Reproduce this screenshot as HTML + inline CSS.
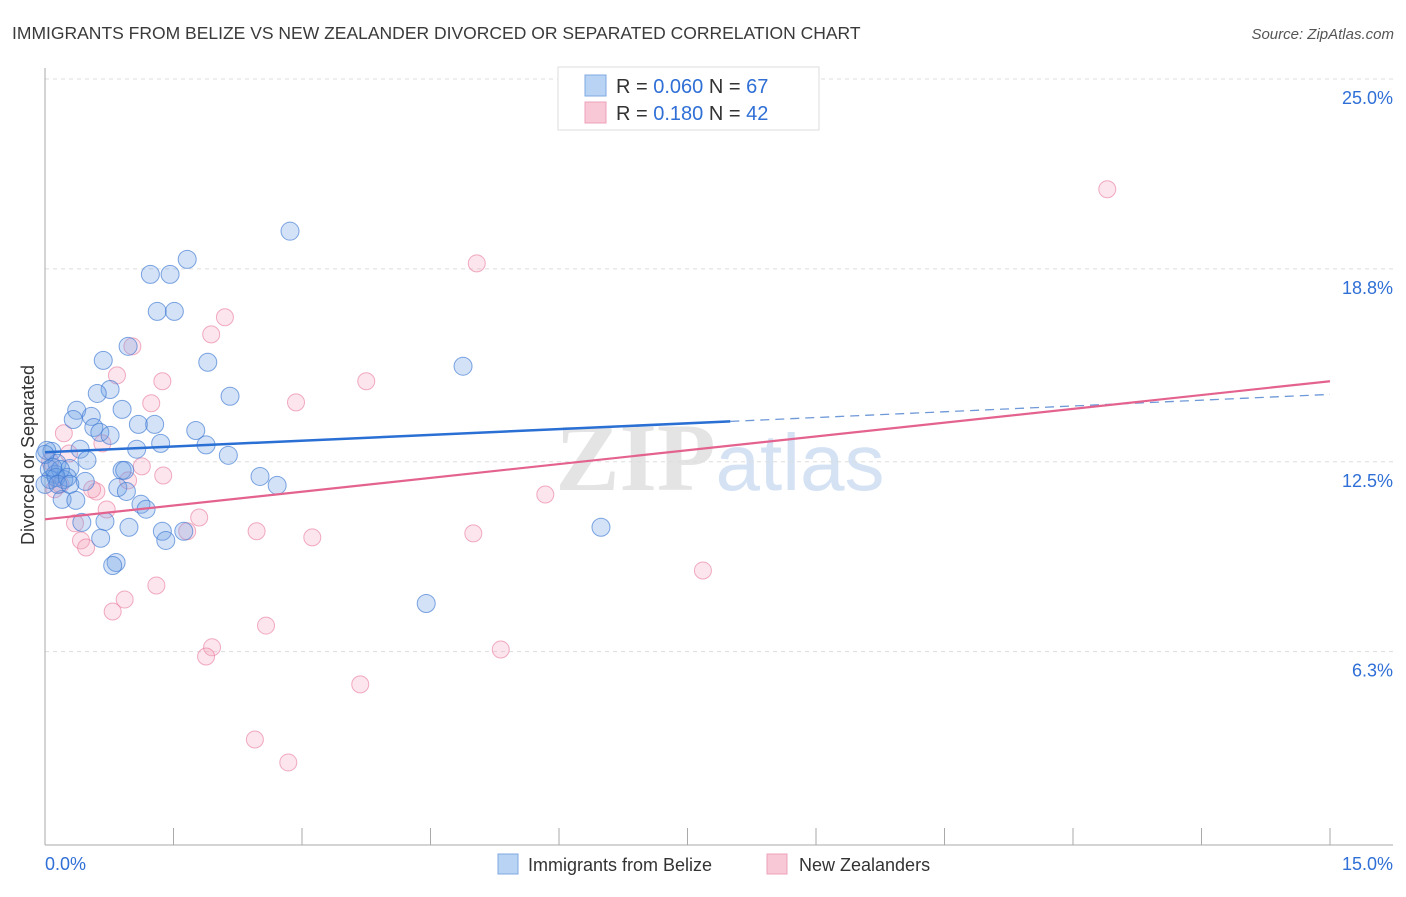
<!DOCTYPE html>
<html><head><meta charset="utf-8"><style>
body{margin:0;background:#fff;width:1406px;height:892px;overflow:hidden;font-family:"Liberation Sans",sans-serif}
</style></head><body>
<svg id="chart" width="1406" height="892" xmlns="http://www.w3.org/2000/svg" font-family="Liberation Sans, sans-serif">
<text x="12" y="39" font-size="17.5" fill="#3a3a3a">IMMIGRANTS FROM BELIZE VS NEW ZEALANDER DIVORCED OR SEPARATED CORRELATION CHART</text>
<text x="1394" y="39" font-size="15" fill="#555" font-style="italic" text-anchor="end">Source: ZipAtlas.com</text>
<text x="720" y="490" font-size="96" text-anchor="middle" fill="#e4e4e4" font-family="Liberation Serif, serif" font-weight="bold">ZIP<tspan fill="#d4e2f4" font-family="Liberation Sans, sans-serif" font-weight="normal" font-size="80">atlas</tspan></text>
<g id="grid"></g>
<g id="axes"></g>
<g id="marks"></g>
<text transform="translate(34,455) rotate(-90)" font-size="18" fill="#333" text-anchor="middle">Divorced or Separated</text>
<g>
<rect x="558" y="67" width="261" height="63" fill="#fff" stroke="#ddd"/>
<rect x="585" y="75" width="21" height="21" fill="#b9d3f5" stroke="#7fa8e0"/>
<rect x="585" y="102" width="21" height="21" fill="#f9c8d7" stroke="#eea0b8"/>
<text x="616" y="93" font-size="20" fill="#333">R = <tspan fill="#2f6fd6">0.060</tspan>   N = <tspan fill="#2f6fd6">67</tspan></text>
<text x="616" y="120" font-size="20" fill="#333">R =  <tspan fill="#2f6fd6">0.180</tspan>   N = <tspan fill="#2f6fd6">42</tspan></text>
</g>
<g>
<rect x="498" y="854" width="20" height="20" fill="#b9d3f5" stroke="#7fa8e0"/>
<text x="528" y="871" font-size="18" fill="#333">Immigrants from Belize</text>
<rect x="767" y="854" width="20" height="20" fill="#f9c8d7" stroke="#eea0b8"/>
<text x="799" y="871" font-size="18" fill="#333">New Zealanders</text>
</g>
</svg>
<script>
const yTicks=[25.0,18.8,12.5,6.3];
const yTickLabels=["25.0%","18.8%","12.5%","6.3%"];
const xTicks=[0,1.5,3,4.5,6,7.5,9,10.5,12,13.5,15];
const xEndLabels=["0.0%","15.0%"];
const belizeX=[2.86,1.66,1.23,1.46,1.31,1.51,0.97,0.68,1.90,4.88,0.76,0.61,0.90,0.37,0.54,0.33,2.16,1.09,1.28,0.57,0.64,0.76,1.76,1.07,1.35,1.88,0.41,0.08,0.49,2.14,0.14,0.02,0.29,0.90,0.93,2.51,2.71,0.47,0.85,0.95,0.20,0.36,1.12,1.18,0.70,0.43,0.65,1.37,1.41,1.62,0.98,0.83,0.79,4.45,6.49,0.05,0.12,0.22,0.18,0.06,0.13,0.26,0.00,0.09,0.0,0.15,0.29];
const belizeY=[20.03,19.11,18.62,18.62,17.41,17.41,16.27,15.81,15.75,15.62,14.86,14.73,14.21,14.18,13.98,13.88,14.64,13.72,13.72,13.62,13.46,13.36,13.52,12.91,13.10,13.05,12.91,12.84,12.55,12.71,12.45,12.87,12.28,12.22,12.22,12.02,11.73,11.86,11.66,11.53,11.27,11.24,11.11,10.95,10.55,10.52,10.00,10.23,9.93,10.23,10.36,9.21,9.11,7.87,10.36,12.25,12.09,11.92,12.25,11.92,11.99,11.99,12.74,12.32,11.76,11.76,11.76];
const nzX=[12.40,5.04,2.10,1.94,1.02,0.84,1.37,3.75,1.24,2.93,0.22,0.67,0.28,1.38,1.13,0.97,0.60,0.55,5.84,0.72,1.80,0.35,2.47,1.66,5.00,3.12,0.42,0.48,7.68,1.30,0.93,0.79,2.58,1.95,1.88,5.32,3.68,2.45,2.84,0.11,0.06,0.18];
const nzY=[21.40,18.98,17.22,16.66,16.27,15.32,15.13,15.13,14.41,14.44,13.43,13.10,12.77,12.05,12.35,11.89,11.53,11.60,11.43,10.94,10.68,10.49,10.23,10.23,10.16,10.03,9.93,9.70,8.95,8.46,8.00,7.61,7.15,6.44,6.14,6.37,5.23,3.43,2.68,11.60,12.51,11.76];
const belizeTrend=[12.81,14.70];
const belizeSolidEnd=8.0;
const nzTrend=[10.62,15.13];

const NS="http://www.w3.org/2000/svg";
const X=v=>45+v*(1285/15);
const Y=v=>844.5-v*(765.5/25);
function mk(tag,attrs,parent){const e=document.createElementNS(NS,tag);for(const k in attrs)e.setAttribute(k,attrs[k]);parent.appendChild(e);return e;}
const grid=document.getElementById('grid'),axes=document.getElementById('axes'),marks=document.getElementById('marks');
yTicks.forEach((t,i)=>{
 const l=mk('line',{x1:45,x2:1393,y1:Y(t),y2:Y(t),stroke:'#ddd','stroke-dasharray':'4,4'},grid);
 
 
 const tx=mk('text',{x:1393,y:Y(t)+25,'font-size':18,fill:'#2f6fd6','text-anchor':'end'},grid);
 tx.textContent=yTickLabels[i];
 
 
});
const ax=mk('line',{x1:45,x2:1393,y1:845,y2:845,stroke:'#aaa'},axes);


const ay=mk('line',{x1:45,x2:45,y1:68,y2:845,stroke:'#aaa'},axes);


xTicks.forEach(t=>{
 const l=mk('line',{x1:X(t),x2:X(t),y1:828,y2:845,stroke:'#aaa'},axes);
 
 
});
const xl0=mk('text',{x:45,y:870,'font-size':18,fill:'#2f6fd6'},axes);
xl0.textContent=xEndLabels[0];


const xl1=mk('text',{x:1393,y:870,'font-size':18,fill:'#2f6fd6','text-anchor':'end'},axes);
xl1.textContent=xEndLabels[1];


nzX.forEach((v,i)=>{
 const c=mk('circle',{cx:X(v),cy:Y(nzY[i]),r:8.5,fill:'rgba(243,160,188,0.28)',stroke:'rgba(232,120,155,0.6)','stroke-width':1},marks);
 
 
});
belizeX.forEach((v,i)=>{
 const c=mk('circle',{cx:X(v),cy:Y(belizeY[i]),r:9,fill:'rgba(110,160,230,0.3)',stroke:'rgba(60,120,210,0.65)','stroke-width':1},marks);
 
 
});
const bAt=x=>belizeTrend[0]+(belizeTrend[1]-belizeTrend[0])*x/15;
const b1=mk('line',{x1:X(0),y1:Y(bAt(0)),x2:X(belizeSolidEnd),y2:Y(bAt(belizeSolidEnd)),stroke:'#2a6fd4','stroke-width':2.5},marks);


const b2=mk('line',{x1:X(belizeSolidEnd),y1:Y(bAt(belizeSolidEnd)),x2:X(15),y2:Y(bAt(15)),stroke:'#6e98d8','stroke-width':1.3,'stroke-dasharray':'9,6'},marks);


const p=mk('line',{x1:X(0),y1:Y(nzTrend[0]),x2:X(15),y2:Y(nzTrend[1]),stroke:'#e4628e','stroke-width':2.2},marks);


</script>
</body></html>
